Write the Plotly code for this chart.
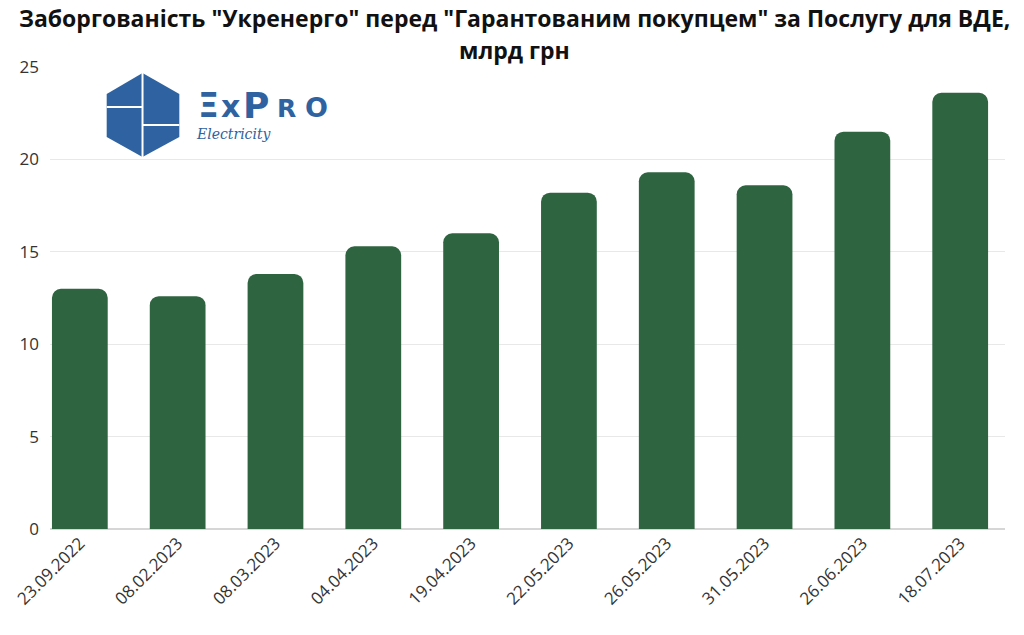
import plotly.graph_objects as go

dates = ["23.09.2022", "08.02.2023", "08.03.2023", "04.04.2023", "19.04.2023",
         "22.05.2023", "26.05.2023", "31.05.2023", "26.06.2023", "18.07.2023"]
debt = [13.0, 12.6, 13.8, 15.3, 16.0, 18.2, 19.3, 18.6, 21.5, 23.6]
y_ticks = [0, 5, 10, 15, 20, 25]
title_line1 = 'Заборгованість "Укренерго" перед "Гарантованим покупцем" за Послугу для ВДЕ,'
title_line2 = 'млрд грн'

W, H = 1024, 635
L, R, T, B = 45, 1005, 67, 529
LOGO = "#2f62a0"


def px(x):
    return (x - L) / (R - L)


def py(y):
    return (B - y) / (B - T)


fig = go.Figure(go.Bar(
    x=list(range(len(dates))), y=debt,
    marker=dict(color="#2e6540", line=dict(width=0)),
    width=0.57,
))

# logo: hexagon + dividers
hexpts = [(138, 73), (175, 94), (175, 137), (138, 157), (102, 137), (102, 94)]
path = "M " + " L ".join(f"{px(a):.5f},{py(b):.5f}" for a, b in hexpts) + " Z"
shapes = [dict(type="path", path=path, xref="paper", yref="paper",
               fillcolor=LOGO, line=dict(width=0), layer="above")]
shapes += [
    dict(type="line", xref="paper", yref="paper", x0=px(138), x1=px(138), y0=py(73), y1=py(157),
         line=dict(color="white", width=2), layer="above"),
    dict(type="line", xref="paper", yref="paper", x0=px(102), x1=px(138), y0=py(107), y1=py(107),
         line=dict(color="white", width=2), layer="above"),
    dict(type="line", xref="paper", yref="paper", x0=px(138), x1=px(175), y0=py(125), y1=py(125),
         line=dict(color="white", width=2), layer="above"),
]

annotations = [
    dict(text="<b>" + title_line1 + "</b>", x=0.5, y=py(18), xref="paper", yref="paper",
         xanchor="center", yanchor="middle", showarrow=False, xshift=-(L - (W - R)) / 2,
         font=dict(family="Open Sans", size=23, color="#111111")),
    dict(text="<b>" + title_line2 + "</b>", x=0.5, y=py(50), xref="paper", yref="paper",
         xanchor="center", yanchor="middle", showarrow=False, xshift=-(L - (W - R)) / 2,
         font=dict(family="Open Sans", size=23, color="#111111")),
    dict(text="<i>Electricity</i>", x=px(190), y=py(134), xref="paper", yref="paper",
         xanchor="left", yanchor="middle", showarrow=False,
         font=dict(family="DejaVu Serif, Liberation Serif", size=14, color=LOGO)),
]

# logo wordmark, letter by letter (baseline ~119px)
logo_letters = [("Ξ", 204, 33), ("x", 226, 30), ("P", 252, 36), ("R", 283, 25), ("O", 313, 27)]
for ch, cx, sz in logo_letters:
    annotations.append(dict(text="<b>" + ch + "</b>", x=px(cx), y=py(119), xref="paper", yref="paper",
                            xanchor="center", yanchor="bottom", showarrow=False,
                            font=dict(family="DejaVu Sans", size=sz, color=LOGO),
                            yshift=-sz * 0.24))

fig.update_layout(
    width=W, height=H,
    margin=dict(l=L, r=W - R, t=T, b=H - B),
    paper_bgcolor="white", plot_bgcolor="white",
    barcornerradius=9,
    xaxis=dict(tickmode="array", tickvals=list(range(len(dates))), ticktext=dates,
               tickangle=-45, range=[-0.305, 9.458], showgrid=False, showline=False,
               tickfont=dict(family="Open Sans", size=17, color="#333333"), ticks=""),
    yaxis=dict(range=[0, 25], tickvals=y_ticks, showgrid=True, gridcolor="#e8e8e8",
               zeroline=True, zerolinecolor="#d6d6d6", zerolinewidth=1.5,
               tickfont=dict(family="Open Sans", size=17, color="#333333"), ticks="",
               ticklabelstandoff=10),
    shapes=shapes,
    annotations=annotations,
    showlegend=False,
)

fig.write_html("out.html", config={"displayModeBar": False},
               post_script="document.body.style.margin='0';")
